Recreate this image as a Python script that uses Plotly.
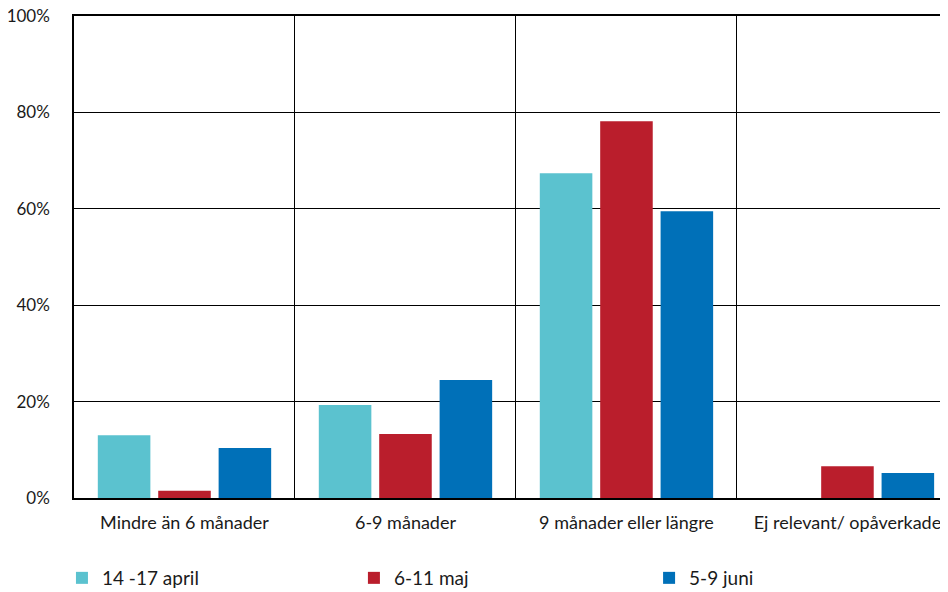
import plotly.graph_objects as go

categories = ["Mindre än 6 månader", "6-9 månader", "9 månader eller längre", "Ej relevant/ opåverkade"]
series_names = ["14 -17 april", "6-11 maj", "5-9 juni"]
april = [13.0, 19.3, 67.4, 0.0]
maj = [1.5, 13.3, 78.2, 6.6]
juni = [10.4, 24.5, 59.5, 5.2]
colors = ["#5BC2CF", "#BA1E2C", "#0070B8"]
yticks = [0, 20, 40, 60, 80, 100]
yticklabels = ["0%", "20%", "40%", "60%", "80%", "100%"]

legend_ids = ["legend", "legend2", "legend3"]
legend_x = [0.0574, 0.368, 0.682]

fig = go.Figure()
for name, vals, col, lid in zip(series_names, [april, maj, juni], colors, legend_ids):
    fig.add_trace(go.Bar(x=categories, y=vals, name=name, legend=lid,
                         marker=dict(color=col, line=dict(width=0))))

font_family = "Lato, 'Open Sans', sans-serif"
legend_common = dict(orientation="h", xanchor="left", xref="container",
                     y=0.0565, yanchor="top", yref="container",
                     font=dict(size=19), itemwidth=30, bgcolor="rgba(0,0,0,0)")
fig.update_layout(
    width=940, height=584,
    margin=dict(l=66, r=0, t=8, b=94, autoexpand=False),
    plot_bgcolor="white", paper_bgcolor="white",
    barmode="group", bargap=0.18, bargroupgap=0.13,
    font=dict(family=font_family, size=18, color="#1a1a1a"),
    showlegend=True,
    legend=dict(x=legend_x[0], **legend_common),
    legend2=dict(x=legend_x[1], **legend_common),
    legend3=dict(x=legend_x[2], **legend_common),
)
fig.update_xaxes(
    range=[-0.5, 3.455], showgrid=True, gridcolor="black", gridwidth=1,
    tickson="boundaries", ticks="", showline=True, linecolor="black", linewidth=1.5,
    mirror=True, ticklabelstandoff=8, automargin=False, tickfont=dict(size=18),
)
fig.update_yaxes(
    range=[0, 100.02], tickvals=yticks, ticktext=yticklabels, showgrid=True,
    gridcolor="black", gridwidth=1, showline=True, linecolor="black", linewidth=1.5,
    ticks="", ticklabelstandoff=19, zeroline=False, automargin=False, tickfont=dict(size=17),
    ticklabeloverflow="allow",
)
fig.write_html("out.html")
